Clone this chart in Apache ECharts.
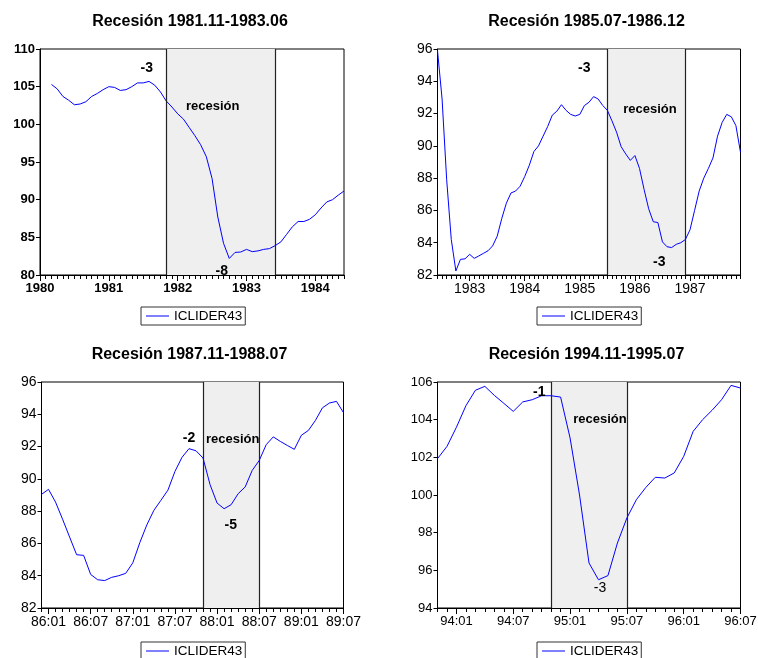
<!DOCTYPE html>
<html>
<head>
<meta charset="utf-8">
<script src="https://cdn.jsdelivr.net/npm/echarts@6/dist/echarts.min.js"></script>
<style>
html,body{margin:0;padding:0;background:#fff;}
#chart{width:758px;height:658px;}
</style>
</head>
<body>
<div id="chart"></div>
<script>
// ---------- DATA ----------
const seriesName = 'ICLIDER43';

// Panel 1: Recesión 1981.11-1983.06 (monthly 1980:01 - 1984:06)
const p1Cats = ['80:01','80:02','80:03','80:04','80:05','80:06','80:07','80:08','80:09','80:10','80:11','80:12',
 '81:01','81:02','81:03','81:04','81:05','81:06','81:07','81:08','81:09','81:10','81:11','81:12',
 '82:01','82:02','82:03','82:04','82:05','82:06','82:07','82:08','82:09','82:10','82:11','82:12',
 '83:01','83:02','83:03','83:04','83:05','83:06','83:07','83:08','83:09','83:10','83:11','83:12',
 '84:01','84:02','84:03','84:04','84:05','84:06'];
const p1Values = [null, null, 105.3, 104.7, 103.7, 103.2, 102.6, 102.7, 103.0, 103.7, 104.1, 104.6,
 105.0, 104.9, 104.5, 104.6, 105.0, 105.5, 105.5, 105.7, 105.2, 104.3, 103.1, 102.3,
 101.4, 100.7, 99.6, 98.5, 97.3, 95.7, 92.8, 87.7, 84.2, 82.2, 83.0, 83.05,
 83.4, 83.1, 83.2, 83.4, 83.5, 83.9, 84.4, 85.4, 86.4, 87.1, 87.1, 87.4,
 88.0, 88.9, 89.7, 90.0, 90.6, 91.15];
const p1TickCats = ['80:01','81:01','82:01','83:01','84:01'];
const p1TickLabels = ['1980','1981','1982','1983','1984'];
const p1Recession = ['81:11','83:06'];

// Panel 2: Recesión 1985.07-1986.12 (monthly 1982:06 - 1987:12)
const p2Cats = ['82:06','82:07','82:08','82:09','82:10','82:11','82:12',
 '83:01','83:02','83:03','83:04','83:05','83:06','83:07','83:08','83:09','83:10','83:11','83:12',
 '84:01','84:02','84:03','84:04','84:05','84:06','84:07','84:08','84:09','84:10','84:11','84:12',
 '85:01','85:02','85:03','85:04','85:05','85:06','85:07','85:08','85:09','85:10','85:11','85:12',
 '86:01','86:02','86:03','86:04','86:05','86:06','86:07','86:08','86:09','86:10','86:11','86:12',
 '87:01','87:02','87:03','87:04','87:05','87:06','87:07','87:08','87:09','87:10','87:11','87:12'];
const p2Values = [95.9, 92.9, 87.9, 84.2, 82.25, 82.97, 83.0,
 83.28, 83.03, 83.18, 83.34, 83.5, 83.8, 84.4, 85.5, 86.45, 87.08, 87.2, 87.5,
 88.1, 88.8, 89.65, 90.0, 90.6, 91.2, 91.9, 92.15, 92.55, 92.2, 91.95, 91.85,
 91.95, 92.5, 92.7, 93.05, 92.9, 92.5, 92.2, 91.55, 90.85, 89.95, 89.5, 89.1,
 89.4, 88.6, 87.3, 86.1, 85.3, 85.25, 84.05, 83.75, 83.7, 83.9, 84.0, 84.2,
 84.8, 86.0, 87.2, 88.0, 88.6, 89.25, 90.6, 91.45, 91.95, 91.8, 91.25, 89.6];
const p2TickCats = ['83:01','84:01','85:01','86:01','87:01'];
const p2TickLabels = ['1983','1984','1985','1986','1987'];
const p2Recession = ['85:07','86:12'];

// Panel 3: Recesión 1987.11-1988.07 (monthly 1985:12 - 1989:07)
const p3Cats = ['85:12',
 '86:01','86:02','86:03','86:04','86:05','86:06','86:07','86:08','86:09','86:10','86:11','86:12',
 '87:01','87:02','87:03','87:04','87:05','87:06','87:07','87:08','87:09','87:10','87:11','87:12',
 '88:01','88:02','88:03','88:04','88:05','88:06','88:07','88:08','88:09','88:10','88:11','88:12',
 '89:01','89:02','89:03','89:04','89:05','89:06','89:07'];
const p3Values = [89.04,
 89.35, 88.56, 87.5, 86.4, 85.3, 85.26, 84.08, 83.75, 83.7, 83.9, 84.0, 84.15,
 84.8, 86.05, 87.15, 88.05, 88.67, 89.3, 90.46, 91.33, 91.87, 91.74, 91.29, 89.64,
 88.5, 88.15, 88.4, 89.08, 89.5, 90.52, 91.14, 92.12, 92.6, 92.32, 92.07, 91.83,
 92.7, 93.0, 93.62, 94.4, 94.7, 94.8, 94.1];
const p3TickCats = ['86:01','86:07','87:01','87:07','88:01','88:07','89:01','89:07'];
const p3TickLabels = ['86:01','86:07','87:01','87:07','88:01','88:07','89:01','89:07'];
const p3Recession = ['87:11','88:07'];

// Panel 4: Recesión 1994.11-1995.07 (monthly 1993:11 - 1996:07)
const p4Cats = ['93:11','93:12',
 '94:01','94:02','94:03','94:04','94:05','94:06','94:07','94:08','94:09','94:10','94:11','94:12',
 '95:01','95:02','95:03','95:04','95:05','95:06','95:07','95:08','95:09','95:10','95:11','95:12',
 '96:01','96:02','96:03','96:04','96:05','96:06','96:07'];
const p4Values = [101.93, 102.58,
 103.6, 104.74, 105.56, 105.77, 105.29, 104.87, 104.44, 104.94, 105.06, 105.27, 105.27, 105.2,
 103.03, 100.0, 96.39, 95.5, 95.72, 97.45, 98.78, 99.75, 100.4, 100.94, 100.9, 101.17,
 102.05, 103.38, 104.0, 104.5, 105.06, 105.82, 105.68];
const p4TickCats = ['94:01','94:07','95:01','95:07','96:01','96:07'];
const p4TickLabels = ['94:01','94:07','95:01','95:07','96:01','96:07'];
const p4Recession = ['94:11','95:07'];

const titles = ['Recesión 1981.11-1983.06','Recesión 1985.07-1986.12','Recesión 1987.11-1988.07','Recesión 1994.11-1995.07'];
const yRanges = [[80,110,5],[82,96,2],[82,96,2],[94,106,2]];

// ---------- LAYOUT ----------
const FONT = '"Liberation Sans", Arial, Helvetica, sans-serif';
const panels = [
  {cats:p1Cats, vals:p1Values, tc:p1TickCats, tl:p1TickLabels, rec:p1Recession, grid:{left:40,top:49,width:304,height:226}, bold:true, fs:13,
   title:{x:190,y:22}, legend:{left:141,top:307}},
  {cats:p2Cats, vals:p2Values, tc:p2TickCats, tl:p2TickLabels, rec:p2Recession, grid:{left:437.5,top:49,width:303,height:226}, bold:false, fs:14,
   title:{x:586.5,y:22}, legend:{left:537,top:307}},
  {cats:p3Cats, vals:p3Values, tc:p3TickCats, tl:p3TickLabels, rec:p3Recession, grid:{left:41.5,top:382,width:302,height:226}, bold:false, fs:14,
   title:{x:189.5,y:355}, legend:{left:141,top:642}},
  {cats:p4Cats, vals:p4Values, tc:p4TickCats, tl:p4TickLabels, rec:p4Recession, grid:{left:437.5,top:382,width:303,height:226}, bold:false, fs:13,
   title:{x:586.5,y:355}, legend:{left:537,top:642}}
];

const annotations = [
  {text:'-3', x:146.7, y:68.3, bold:true},
  {text:'recesión', x:212.7, y:106.7, bold:true, fs:13},
  {text:'-8', x:221.7, y:270.7, bold:true},
  {text:'-3', x:584.3, y:67.7, bold:true},
  {text:'recesión', x:650, y:109, bold:true, fs:13},
  {text:'-3', x:659.3, y:261.7, bold:true},
  {text:'-2', x:189, y:438, bold:true},
  {text:'recesión', x:232.7, y:439.7, bold:true, fs:13},
  {text:'-5', x:230.7, y:525.3, bold:true},
  {text:'-1', x:539.3, y:392, bold:true},
  {text:'recesión', x:600, y:419.7, bold:true, fs:13},
  {text:'-3', x:600, y:588, bold:false}
];

const grids = [], xAxes = [], yAxes = [], series = [], legends = [], graphics = [];

panels.forEach((p, i) => {
  grids.push(Object.assign({show:true, borderColor:'#000', borderWidth:1, backgroundColor:'#fff', outerBoundsMode:'none', containLabel:false}, p.grid));
  const isTick = (idx, val) => p.tc.indexOf(val) >= 0;
  // main axis with labels + short monthly ticks
  xAxes.push({
    type:'category', gridIndex:i, position:'bottom', data:p.cats, boundaryGap:false,
    axisLine:{show:true, onZero:false, lineStyle:{color:'#000', width:1}},
    axisTick:{show:true, interval:0, length:4, inside:false, lineStyle:{color:'#000', width:1}},
    axisLabel:{show:true, interval:isTick, margin:7, color:'#000', fontFamily:FONT, fontSize:p.fs, fontWeight:p.bold?'bold':'normal',
      formatter:(v) => { const k = p.tc.indexOf(v); return k >= 0 ? p.tl[k] : ''; }},
    splitLine:{show:false}
  });
  // overlay axis: longer ticks at labelled months
  xAxes.push({
    type:'category', gridIndex:i, position:'bottom', offset:0, data:p.cats, boundaryGap:false,
    axisLine:{show:false, onZero:false},
    axisTick:{show:true, interval:isTick, length:6, inside:false, lineStyle:{color:'#000', width:1}},
    axisLabel:{show:false}, splitLine:{show:false}
  });
  const yr = yRanges[i];
  yAxes.push({
    type:'value', gridIndex:i, position:'left', min:yr[0], max:yr[1], interval:yr[2],
    axisLine:{show:true, onZero:false, lineStyle:{color:'#000', width:1}},
    axisTick:{show:true, length:4, lineStyle:{color:'#000'}},
    axisLabel:{margin:5, color:'#000', fontFamily:FONT, fontSize:p.fs, fontWeight:p.bold?'bold':'normal'},
    splitLine:{show:false}
  });
  series.push({
    name:seriesName, type:'line', xAxisIndex:2*i, yAxisIndex:i, data:p.vals,
    showSymbol:false, symbol:'none', connectNulls:false, smooth:false,
    lineStyle:{color:'#0000ff', width:1}, itemStyle:{color:'#0000ff'},
    emphasis:{disabled:true},
    markArea:{silent:true, itemStyle:{color:'#efefef'}, data:[[{xAxis:p.rec[0]},{xAxis:p.rec[1]}]]},
    markLine:{silent:true, symbol:['none','none'], label:{show:false},
      lineStyle:{color:'#222', width:1.2, type:'solid'},
      data:[{xAxis:p.rec[0]},{xAxis:p.rec[1]}]},
    z:3
  });
  legends.push({
    show:true, data:[seriesName], left:p.legend.left, top:p.legend.top, orient:'horizontal',
    icon:'rect', itemWidth:23, itemHeight:1, itemGap:5,
    borderColor:'#333', borderWidth:1, padding:[2,3,2,5], backgroundColor:'#fff',
    textStyle:{color:'#000', fontFamily:FONT, fontSize:13.5}, selectedMode:false
  });
  graphics.push({
    type:'text', x:p.title.x, y:p.title.y, silent:true,
    style:{text:titles[i], x:0, y:0, textAlign:'center', textVerticalAlign:'middle',
      font:'bold 16px ' + FONT, fill:'#000'}
  });
});

annotations.forEach(a => {
  graphics.push({
    type:'text', x:a.x, y:a.y, silent:true, z:10,
    style:{text:a.text, x:0, y:0, textAlign:'center', textVerticalAlign:'middle',
      font:(a.bold?'bold ':'') + (a.fs||14) + 'px ' + FONT, fill:'#000'}
  });
});

const chart = echarts.init(document.getElementById('chart'), null, {renderer:'canvas'});
chart.setOption({
  animation:false,
  backgroundColor:'#fff',
  grid:grids, xAxis:xAxes, yAxis:yAxes, series:series, legend:legends,
  graphic:{elements:graphics},
  tooltip:{show:false}
});
</script>
</body>
</html>
